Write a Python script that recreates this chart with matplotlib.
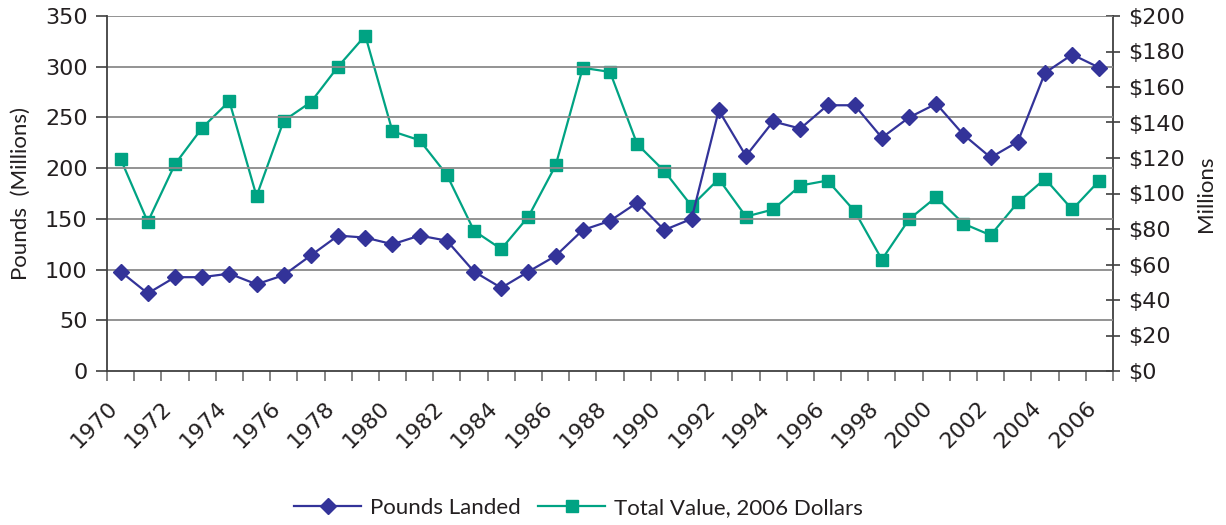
import matplotlib
matplotlib.use("Agg")
import matplotlib.pyplot as plt

plt.rcParams['font.family'] = ['Lato', 'DejaVu Sans']

years = list(range(1970, 2007))

# Pounds landed, millions
pounds = [98, 76.5, 92.5, 92.5, 96, 85.5, 94.5, 114, 133.5, 131.5,
          125, 133.5, 128.5, 98, 82, 98, 113.5, 139, 148, 166,
          139, 150, 257, 212, 246, 239, 262, 262, 230, 250,
          263.5, 233, 210.5, 226, 294, 312, 299]

# Total value, millions of 2006 dollars
value = [119.5, 84, 116.5, 137, 152, 98.5, 141, 151.5, 171.5, 189,
         135, 130, 110.5, 79, 68.7, 87, 115.8, 170.8, 168.5, 127.8,
         112.6, 93, 108.2, 87, 91, 104.5, 107.3, 90, 62.8, 85.5,
         98, 83, 76.5, 95, 108.3, 91, 107.3]

left_ticks = [0, 50, 100, 150, 200, 250, 300, 350]
right_ticks = [0, 20, 40, 60, 80, 100, 120, 140, 160, 180, 200]

NAVY = '#333399'
TEAL = '#00A383'
TXT = '#231f20'
AXC = '#404040'
NUMFONT = 'DejaVu Sans'

fig = plt.figure(figsize=(12.26, 5.25), dpi=100)
ax = fig.add_axes([107 / 1226, 1 - 371 / 525, (1113 - 107) / 1226, (371 - 16) / 525])
ax2 = ax.twinx()

x = list(range(len(years)))
l1, = ax.plot(x, pounds, color=NAVY, lw=1.6, marker='D', ms=8,
              mec=NAVY, mfc=NAVY, label='Pounds Landed', zorder=3)
l2, = ax2.plot(x, value, color=TEAL, lw=1.6, marker='s', ms=8.5,
               mec=TEAL, mfc=TEAL, label='Total Value, 2006 Dollars')

# keep the pounds line drawn above the value line
ax.set_zorder(ax2.get_zorder() + 1)
ax.patch.set_visible(False)

ax.set_xlim(-0.5, len(years) - 0.5)
ax.set_ylim(0, 350)
ax2.set_ylim(0, 200)

ax.set_yticks(left_ticks)
ax.set_yticklabels([str(t) for t in left_ticks], family=NUMFONT)
ax2.set_yticks(right_ticks)
ax2.set_yticklabels(['$' + str(t) for t in right_ticks], family=NUMFONT)

bounds = [i - 0.5 for i in range(len(years) + 1)]
ax.set_xticks(bounds)
ax.set_xticklabels([str(years[i]) if i % 2 == 0 and i < len(years) else ''
                    for i in range(len(bounds))], family=NUMFONT,
                   rotation=45, ha='right', va='top', rotation_mode='anchor')

for t in left_ticks[1:]:
    ax.axhline(t, color='#8a8a8a', lw=1.3, zorder=0)

ax.spines['top'].set_visible(False)
ax2.spines['top'].set_visible(False)
ax2.spines['left'].set_visible(False)
ax2.spines['bottom'].set_visible(False)
ax.spines['right'].set_visible(False)
for sp in [ax.spines['left'], ax.spines['bottom'], ax2.spines['right']]:
    sp.set_color(AXC)
    sp.set_linewidth(1.3)

ax.tick_params(axis='y', direction='out', length=8, width=1.2, color=AXC,
               labelsize=16, labelcolor=TXT, pad=6)
ax.tick_params(axis='x', direction='out', length=7, width=1.2, color='#707070',
               labelsize=16, labelcolor=TXT, pad=12)
ax2.tick_params(axis='y', direction='inout', length=10, width=1.2, color=AXC,
                labelsize=16, labelcolor=TXT, pad=6)

ax.set_ylabel('Pounds  (Millions)', fontsize=16, color=TXT, labelpad=10)
ax2.set_ylabel('Millions', fontsize=16, color=TXT, labelpad=8)

fig.legend(handles=[l1, l2], loc='center', bbox_to_anchor=(0.472, 0.033),
           ncol=2, frameon=False, fontsize=16, handlelength=3,
           columnspacing=0.8, handletextpad=0.4, labelcolor=TXT)

fig.savefig('out.png', dpi=100)
